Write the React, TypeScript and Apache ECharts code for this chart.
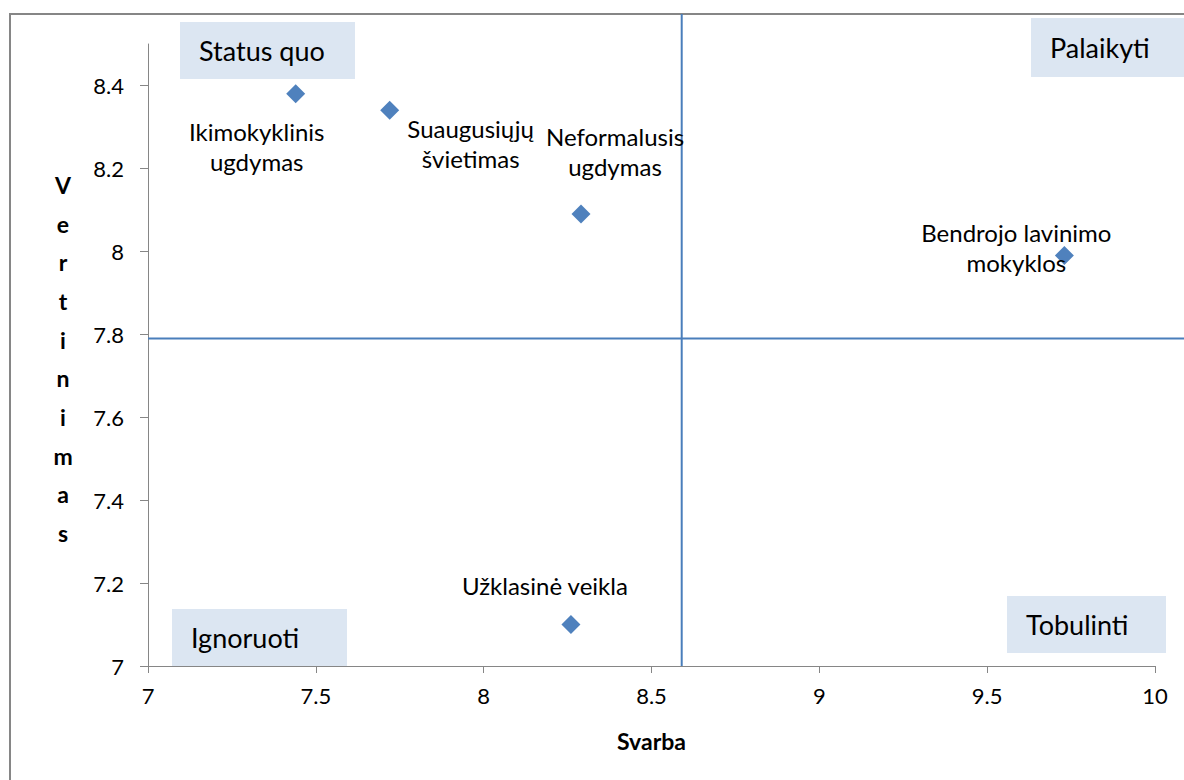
import React, { useEffect, useRef } from "react";
import * as echarts from "echarts";

// ---- data ----
const categories = [
  "Ikimokyklinis\nugdymas",
  "Suaugusiųjų\nšvietimas",
  "Neformalusis\nugdymas",
  "Bendrojo lavinimo\nmokyklos",
  "Užklasinė veikla",
];
const svarba = [7.44, 7.72, 8.29, 9.73, 8.26];
const vertinimas = [8.38, 8.34, 8.09, 7.99, 7.1];
const xTicks = [7, 7.5, 8, 8.5, 9, 9.5, 10];
const yTicks = [7, 7.2, 7.4, 7.6, 7.8, 8, 8.2, 8.4];
const quadrantNames = ["Status quo", "Palaikyti", "Ignoruoti", "Tobulinti"];
const xThreshold = 8.59;
const yThreshold = 7.79;
const xAxisName = "Svarba";
const yAxisName = "Vertinimas";

// ---- layout (pixels) ----
const labelOffsets = [
  [-39, 53],
  [81, 33],
  [34, -63],
  [-48, -8],
  [-26, -39],
];
const quadrantBoxes = [
  { x: 180, y: 22, w: 175, h: 57 },
  { x: 1031, y: 18, w: 160, h: 59 },
  { x: 172, y: 609, w: 175, h: 57 },
  { x: 1007, y: 596, w: 159, h: 57 },
];

const FONT = "Lato, 'Noto Sans', sans-serif";
const AXIS_GREY = "#868686";
const LINE_BLUE = "#4a7ebb";
const TEXT = "#000";

export default function App() {
  const ref = useRef<HTMLDivElement>(null);

  useEffect(() => {
    if (!ref.current) return;
    const chart = echarts.init(ref.current, undefined, { renderer: "svg" });

    const data = svarba.map((x, i) => ({
      value: [x, vertinimas[i]],
      name: categories[i],
      label: {
        show: true,
        position: "inside",
        offset: labelOffsets[i],
        formatter: categories[i],
        align: "center",
        verticalAlign: "middle",
        color: TEXT,
        fontFamily: FONT,
        fontSize: 24,
        lineHeight: 30,
      },
    }));

    chart.setOption({
      animation: false,
      backgroundColor: "#fff",
      grid: { left: 148, right: 29, top: 44, bottom: 114, containLabel: false },
      xAxis: {
        type: "value",
        min: 7,
        max: 10,
        interval: 0.5,
        name: xAxisName,
        nameLocation: "middle",
        nameGap: 63,
        nameTextStyle: { fontFamily: FONT, fontSize: 23, fontWeight: "bold", color: TEXT },
        splitLine: { show: false },
        axisLine: { show: true, lineStyle: { color: AXIS_GREY, width: 1 } },
        axisTick: { show: true, length: 7, inside: false, lineStyle: { color: AXIS_GREY } },
        axisLabel: {
          margin: 18,
          fontFamily: FONT,
          fontSize: 22,
          color: TEXT,
          customValues: xTicks,
          formatter: (v: number) => String(v),
        },
      },
      yAxis: {
        type: "value",
        min: 7,
        max: 8.5,
        interval: 0.2,
        splitLine: { show: false },
        axisLine: { show: true, lineStyle: { color: AXIS_GREY, width: 1 } },
        axisTick: { show: true, length: 8, customValues: yTicks, lineStyle: { color: AXIS_GREY } },
        axisLabel: {
          margin: 24,
          fontFamily: FONT,
          fontSize: 22,
          color: TEXT,
          customValues: yTicks,
          formatter: (v: number) => String(Math.round(v * 10) / 10),
        },
      },
      series: [
        {
          type: "scatter",
          symbol: "diamond",
          symbolSize: 19,
          itemStyle: { color: "#4f81bd", opacity: 1 },
          data,
          z: 5,
        },
      ],
    });

    const [px, py] = chart.convertToPixel({ xAxisIndex: 0, yAxisIndex: 0 }, [xThreshold, yThreshold]) as number[];
    const [xLeft, yBottom] = chart.convertToPixel({ xAxisIndex: 0, yAxisIndex: 0 }, [7, 7]) as number[];

    const graphics: any[] = [
      {
        type: "rect",
        shape: { x: 10, y: 14, width: 1200, height: 800 },
        style: { fill: "none", stroke: AXIS_GREY, lineWidth: 2 },
        z: 0,
        silent: true,
      },
      {
        type: "line",
        shape: { x1: px, y1: 14, x2: px, y2: yBottom },
        style: { stroke: LINE_BLUE, lineWidth: 2 },
        z: 1,
      },
      {
        type: "line",
        shape: { x1: xLeft, y1: py, x2: 1184, y2: py },
        style: { stroke: LINE_BLUE, lineWidth: 2 },
        z: 1,
      },
      {
        type: "text",
        x: 63,
        y: 359,
        style: {
          text: yAxisName.split("").join("\n"),
          font: `bold 23px ${FONT}`,
          fill: TEXT,
          align: "center",
          verticalAlign: "middle",
          lineHeight: 38.7,
        },
      },
    ];
    quadrantBoxes.forEach((b, i) => {
      graphics.push({
        type: "rect",
        shape: { x: b.x, y: b.y, width: b.w, height: b.h },
        style: { fill: "#dce6f2" },
        z: 2,
      });
      graphics.push({
        type: "text",
        x: b.x + 19,
        y: b.y + b.h / 2,
        style: {
          text: quadrantNames[i],
          font: `27px ${FONT}`,
          fill: TEXT,
          align: "left",
          verticalAlign: "middle",
        },
        z: 3,
      });
    });

    chart.setOption({ graphic: graphics });

    return () => chart.dispose();
  }, []);

  return (
    <div
      ref={ref}
      style={{ position: "fixed", left: 0, top: 0, width: 1184, height: 780 }}
    />
  );
}
